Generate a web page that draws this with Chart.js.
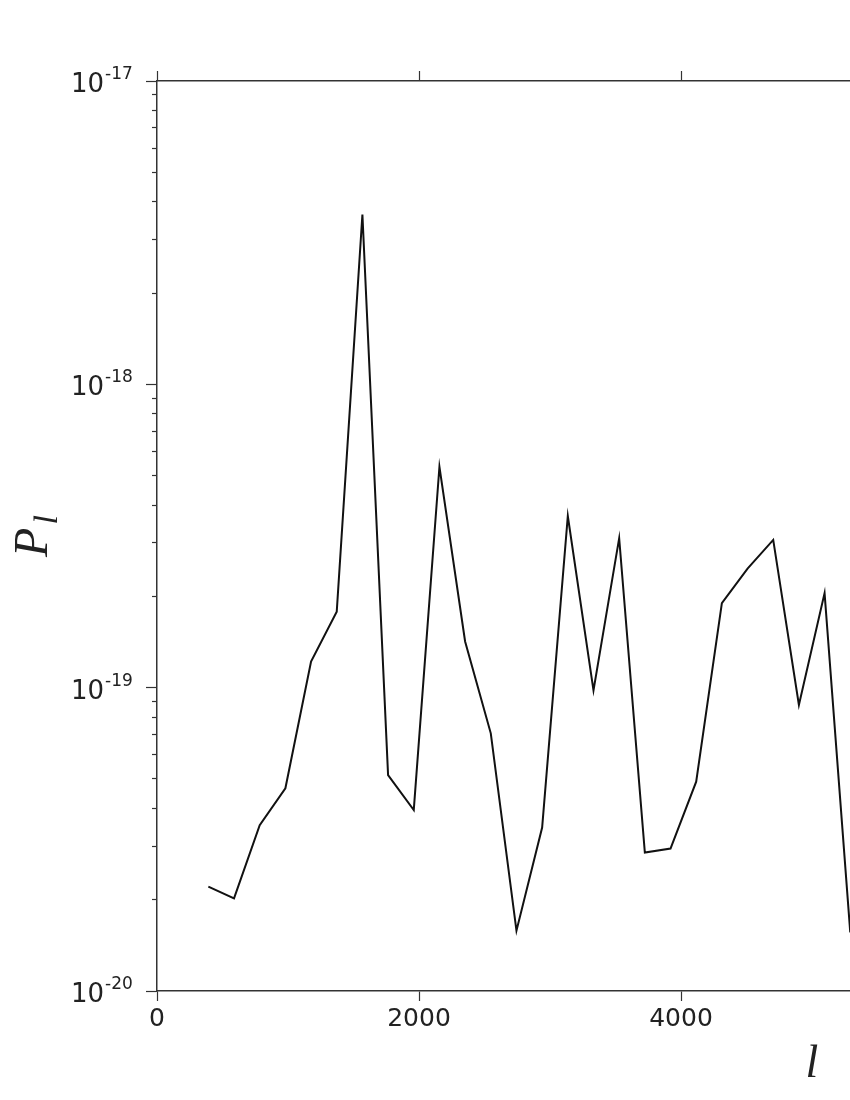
<!DOCTYPE html>
<html>
<head>
<meta charset="utf-8">
<script src="https://cdn.jsdelivr.net/npm/chart.js@4/dist/chart.umd.min.js"></script>
<style>
  html, body { margin: 0; padding: 0; background: #fff; overflow: hidden; }
  #wrap { width: 1540px; height: 1100px; }
</style>
</head>
<body>
<div id="wrap"><canvas id="grafico" width="1540" height="1100"></canvas></div>
<script>
// multipole bins (l) and power P_l
const ell = [392, 588, 784, 980, 1176, 1372, 1568, 1764, 1960, 2156, 2352, 2548, 2744,
             2940, 3136, 3332, 3528, 3724, 3920, 4116, 4312, 4508, 4704, 4900, 5096, 5292];
const power = [2.21e-20, 2.02e-20, 3.52e-20, 4.66e-20, 1.22e-19, 1.78e-19, 3.63e-18,
               5.15e-20, 3.95e-20, 5.35e-19, 1.42e-19, 7.07e-20, 1.58e-20, 3.46e-20,
               3.68e-19, 9.8e-20, 3.11e-19, 2.86e-20, 2.95e-20, 4.9e-20, 1.9e-19,
               2.47e-19, 3.07e-19, 8.77e-20, 2.05e-19, 1.56e-20];

// axis ranges and tick labels
const xTicks = [0, 2000, 4000, 6000, 8000, 10000];
const yDecades = [-20, -19, -18, -17];
const yMin = 1e-20, yMax = 1e-17;

const INK = '#222';
const SPINE = '#333';

const majorTicks = yDecades.map(e => Math.pow(10, e));
const minorTicks = [];
for (const e of yDecades.slice(0, -1)) {
    for (let m = 2; m <= 9; m++) minorTicks.push(m * Math.pow(10, e));
}

// labels 10^n with a real superscript, plus axis titles with italic math look
const mathLabels = {
    id: 'mathLabels',
    afterDraw(chart) {
        const ctx = chart.ctx;
        const y = chart.scales.y;
        const area = chart.chartArea;
        ctx.save();
        ctx.fillStyle = INK;
        ctx.textBaseline = 'alphabetic';
        yDecades.forEach(e => {
            const py = y.getPixelForValue(Math.pow(10, e));
            ctx.font = '26px "DejaVu Sans"';
            ctx.textAlign = 'right';
            ctx.fillText('10', 104, py + 11);
            ctx.font = '17px "DejaVu Sans"';
            ctx.textAlign = 'left';
            ctx.fillText('-' + Math.abs(e), 105, py - 2);
        });

        // x title: l
        ctx.font = 'italic 46px "Liberation Serif"';
        ctx.textAlign = 'center';
        ctx.fillText('l', (area.left + area.right) / 2, 1077);

        // y title: P_l, rotated
        ctx.font = 'italic 48px "Liberation Serif"';
        const wP = ctx.measureText('P').width;
        ctx.font = 'italic 34px "Liberation Serif"';
        const wl = ctx.measureText('l').width;
        const total = wP + 3 + wl;
        ctx.translate(47, (area.top + area.bottom) / 2 + total / 2);
        ctx.rotate(-Math.PI / 2);
        ctx.textAlign = 'left';
        ctx.font = 'italic 48px "Liberation Serif"';
        ctx.fillText('P', 0, 0);
        ctx.font = 'italic 34px "Liberation Serif"';
        ctx.fillText('l', wP + 3, 10);
        ctx.restore();
    }
};

const configP = {
    type: 'line',
    data: {
        datasets: [{
            label: 'P_l',
            data: ell.map((l, i) => ({ x: l, y: power[i] })),
            borderColor: '#111',
            borderWidth: 2,
            pointRadius: 0,
            tension: 0,
            fill: false
        }]
    },
    options: {
        responsive: false,
        animation: false,
        devicePixelRatio: 1,
        layout: { padding: { left: 0, top: 70, right: 73, bottom: 0 } },
        plugins: {
            legend: { display: false },
            tooltip: { enabled: false }
        },
        scales: {
            x: {
                type: 'linear',
                position: 'bottom',
                min: 0,
                max: 10000,
                afterBuildTicks: s => { s.ticks = xTicks.map(v => ({ value: v })); },
                ticks: {
                    font: { family: 'DejaVu Sans', size: 25 },
                    color: INK,
                    padding: 3,
                    maxRotation: 0,
                    callback: v => String(v)
                },
                grid: { drawOnChartArea: false, drawTicks: true, tickLength: 10, tickColor: SPINE, tickWidth: 1.2 },
                border: { color: SPINE, width: 1.5 },
                afterFit: s => { s.height = 109; }
            },
            xTop: {
                type: 'linear',
                position: 'top',
                min: 0,
                max: 10000,
                afterBuildTicks: s => { s.ticks = xTicks.map(v => ({ value: v })); },
                ticks: { display: false },
                grid: { drawOnChartArea: false, drawTicks: true, tickLength: 10, tickColor: SPINE, tickWidth: 1.2 },
                border: { color: SPINE, width: 1.5 },
                afterFit: s => { s.height = 11; }
            },
            y: {
                type: 'logarithmic',
                position: 'left',
                weight: 1,
                min: yMin,
                max: yMax,
                afterBuildTicks: s => { s.ticks = majorTicks.map(v => ({ value: v, major: true })); },
                ticks: { display: false, autoSkip: false },
                grid: { drawOnChartArea: false, drawTicks: true, tickLength: 11, tickColor: SPINE, tickWidth: 1.2 },
                border: { color: SPINE, width: 1.5 },
                afterFit: s => { s.width = 157; }
            },
            yMinor: {
                type: 'logarithmic',
                position: 'left',
                weight: 0,
                min: yMin,
                max: yMax,
                afterBuildTicks: s => { s.ticks = minorTicks.map(v => ({ value: v })); },
                ticks: { display: false, autoSkip: false },
                grid: { drawOnChartArea: false, drawTicks: true, tickLength: 5, tickColor: SPINE, tickWidth: 1.2 },
                border: { display: false },
                afterFit: s => { s.width = 0; }
            }
        }
    },
    plugins: [mathLabels]
};

const graficoP = new Chart(document.getElementById('grafico'), configP);
</script>
</body>
</html>
